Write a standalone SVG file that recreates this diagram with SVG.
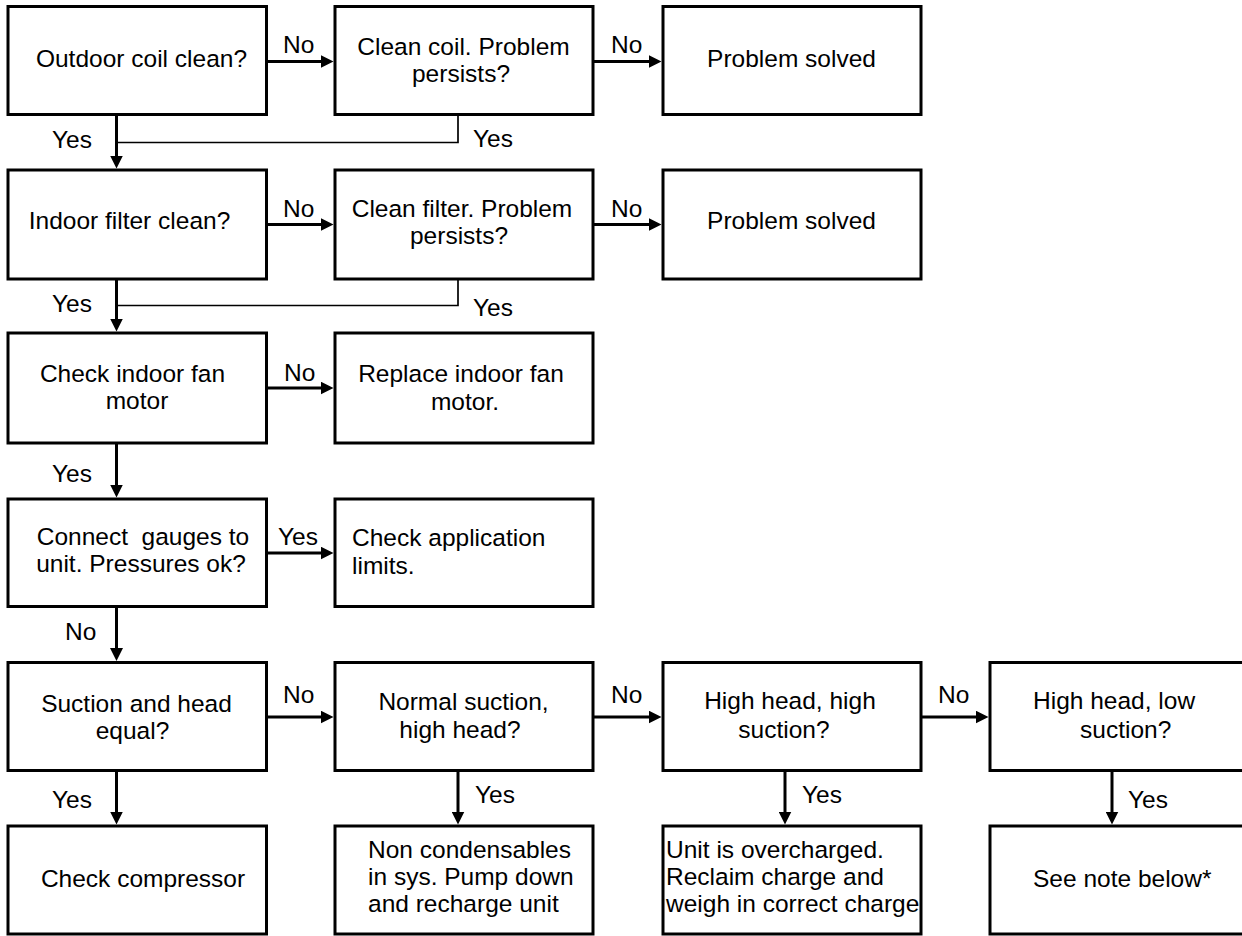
<svg xmlns="http://www.w3.org/2000/svg" width="1242" height="936" viewBox="0 0 1242 936">
<style>
.box{fill:#fff;stroke:#000;stroke-width:3}
text{font-family:"Liberation Sans",Arial,sans-serif;font-size:24.5px;fill:#000}
.c{text-anchor:middle}
.arr{fill:none;stroke:#000;stroke-width:3;marker-end:url(#ah)}
.thin{fill:none;stroke:#000;stroke-width:1.7}
</style>
<defs>
<marker id="ah" markerUnits="userSpaceOnUse" markerWidth="13" markerHeight="13" refX="7" refY="6.5" orient="auto">
<path d="M0,0 L13,6.5 L0,13 z" fill="#000"/>
</marker>
</defs>
<rect width="1242" height="936" fill="#fff"/>
<g id="connectors">
<path class="arr" d="M266.5,61.5 H327.5"/>
<path class="arr" d="M593,61.5 H655.5"/>
<path class="arr" d="M266.5,224.5 H327.5"/>
<path class="arr" d="M593,224.5 H655.5"/>
<path class="arr" d="M266.5,388 H327.5"/>
<path class="arr" d="M266.5,553 H327.5"/>
<path class="arr" d="M266.5,717 H327.5"/>
<path class="arr" d="M593,717 H655.5"/>
<path class="arr" d="M921,717 H982.5"/>
<path class="arr" d="M116.5,114.5 V162.5"/>
<path class="thin" d="M458,114.5 V142.5 H116.5"/>
<path class="arr" d="M116.5,279 V325.5"/>
<path class="thin" d="M458,279 V305.5 H116.5"/>
<path class="arr" d="M116.5,443 V491.5"/>
<path class="arr" d="M116.5,606.5 V655"/>
<path class="arr" d="M116.5,770.5 V818.5"/>
<path class="arr" d="M458,770.5 V818.5"/>
<path class="arr" d="M785,770.5 V818.5"/>
<path class="arr" d="M1112,770.5 V818.5"/>
<text x="283" y="53">No</text>
<text x="611" y="53">No</text>
<text x="52" y="148">Yes</text>
<text x="473" y="147">Yes</text>
<text x="283" y="217">No</text>
<text x="611" y="217">No</text>
<text x="52" y="312">Yes</text>
<text x="473" y="316">Yes</text>
<text x="284" y="381">No</text>
<text x="52" y="482">Yes</text>
<text x="278" y="545">Yes</text>
<text x="65" y="640">No</text>
<text x="283" y="703">No</text>
<text x="611" y="703">No</text>
<text x="938" y="703">No</text>
<text x="52" y="808">Yes</text>
<text x="475" y="803">Yes</text>
<text x="802" y="803">Yes</text>
<text x="1128" y="808">Yes</text>
</g>
<g id="n1"><rect class="box" x="8" y="6.5" width="258.5" height="108"/><text class="c" x="141.5" y="66.5">Outdoor coil clean?</text></g>
<g id="n2"><rect class="box" x="335" y="6.5" width="258" height="108"/><text class="c" x="463.5" y="55">Clean coil. Problem</text><text class="c" x="461" y="82">persists?</text></g>
<g id="n3"><rect class="box" x="663" y="6.5" width="258" height="108"/><text class="c" x="791.5" y="66.5">Problem solved</text></g>
<g id="n4"><rect class="box" x="8" y="170" width="258.5" height="109"/><text class="c" x="129.5" y="229">Indoor filter clean?</text></g>
<g id="n5"><rect class="box" x="335" y="170" width="258" height="109"/><text class="c" x="462" y="217">Clean filter. Problem</text><text class="c" x="459" y="244">persists?</text></g>
<g id="n6"><rect class="box" x="663" y="170" width="258" height="109"/><text class="c" x="791.5" y="229">Problem solved</text></g>
<g id="n7"><rect class="box" x="8" y="333" width="258.5" height="110"/><text class="c" x="132.5" y="382">Check indoor fan</text><text class="c" x="137" y="409">motor</text></g>
<g id="n8"><rect class="box" x="335" y="333" width="258" height="110"/><text class="c" x="461" y="382">Replace indoor fan</text><text class="c" x="465" y="410">motor.</text></g>
<g id="n9"><rect class="box" x="8" y="499" width="258.5" height="107.5"/><text class="c" x="143" y="545" style="white-space:pre">Connect  gauges to</text><text class="c" x="141" y="572">unit. Pressures ok?</text></g>
<g id="n10"><rect class="box" x="335" y="499" width="258" height="107.5"/><text x="352" y="546">Check application</text><text x="352" y="574">limits.</text></g>
<g id="n11"><rect class="box" x="8" y="662.5" width="258.5" height="108"/><text class="c" x="136.5" y="712">Suction and head</text><text class="c" x="132.5" y="739">equal?</text></g>
<g id="n12"><rect class="box" x="335" y="662.5" width="258" height="108"/><text class="c" x="463.5" y="710">Normal suction,</text><text class="c" x="460" y="738">high head?</text></g>
<g id="n13"><rect class="box" x="663" y="662.5" width="258" height="108"/><text class="c" x="790" y="709">High head, high</text><text class="c" x="784" y="738">suction?</text></g>
<g id="n14"><rect class="box" x="990" y="662.5" width="262" height="108"/><text x="1033" y="709">High head, low</text><text x="1080" y="738">suction?</text></g>
<g id="n15"><rect class="box" x="8" y="826" width="258.5" height="108"/><text class="c" x="143" y="887">Check compressor</text></g>
<g id="n16"><rect class="box" x="335" y="826" width="258" height="108"/><text x="368" y="858">Non condensables</text><text x="368" y="885">in sys. Pump down</text><text x="368" y="912">and recharge unit</text></g>
<g id="n17"><rect class="box" x="663" y="826" width="258" height="108"/><text x="666" y="858">Unit is overcharged.</text><text x="666" y="885">Reclaim charge and</text><text x="666" y="912">weigh in correct charge</text></g>
<g id="n18"><rect class="box" x="990" y="826" width="262" height="108"/><text x="1033" y="887">See note below*</text></g>
</svg>
